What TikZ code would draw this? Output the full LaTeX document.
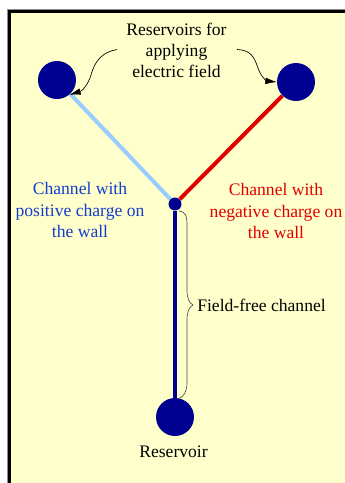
\documentclass[tikz,border=0pt]{standalone}
\usepackage{fontspec}
\setmainfont{Liberation Serif}
\usetikzlibrary{arrows.meta,calc}
\definecolor{bgy}{RGB}{255,255,204}
\definecolor{navyb}{RGB}{0,0,145}
\definecolor{lblue}{RGB}{153,204,255}
\definecolor{chred}{RGB}{225,0,0}
\definecolor{txtblue}{RGB}{20,60,205}
\definecolor{txtred}{RGB}{225,0,0}
\tikzset{
 res/.style={circle,fill=navyb,inner sep=0pt,minimum size=28.5pt},
 junc/.style={circle,fill=navyb,inner sep=0pt,minimum size=9.75pt},
 lab/.style={align=center,font=\fontsize{13.2pt}{15.8pt}\selectfont,inner sep=0pt},
 chan/.style={line width=3pt},
 callout/.style={line width=0.5pt,-{Latex[length=8.5pt,width=5pt]}}
}
\begin{document}
\begin{tikzpicture}[x=0.75pt,y=-0.75pt]
\useasboundingbox (0,0) rectangle (345,483);
\fill[white] (0,0) rectangle (345,483);
\fill[bgy] (9,11) rectangle (345,483);
\draw[black!45,line width=0.75pt] (7.5,483) -- (7.5,9.5) -- (345,9.5);
\draw[black,line width=2.6pt] (9.7,483) -- (9.7,11.5) -- (345,11.5);
\node[res] (L) at (57,80) {};
\node[res] (R) at (296,82) {};
\node[junc] (J) at (175,204) {};
\node[res] (B) at (175,417) {};
\draw[chan,lblue] (L) -- (J);
\draw[chan,chred] (R) -- (J);
\draw[chan,navyb] (J) -- (B);
\node[lab] (T) at (176.5,50) {Reservoirs for\\applying\\electric field};
\node[lab,text=txtblue] (P) at (80,210) {Channel with\\positive charge on\\the wall};
\node[lab,text=txtred] (N) at (276,211) {Channel with\\negative charge on\\the wall};
\node[lab,anchor=west] (F) at (197,305) {Field-free channel};
\node[lab] (S) at (173.5,452) {Reservoir};
\coordinate (TL) at (117,49.5);
\coordinate (TR) at (237,49.5);
\draw[callout] (TL) .. controls (103,52) and (95,60) .. (91,75) .. controls (88,85) and (82,91) .. (L.-50);
\draw[callout] (TR) .. controls (250,50) and (254,56) .. (258,68) .. controls (261,77) and (267,81) .. (R.west);
\draw[line width=0.5pt,black!70] (179,211) .. controls (186,212) and (187,216) .. (187,226) -- (187,290) .. controls (187,298) and (189,303) .. (193,305) .. controls (189,307) and (187,312) .. (187,320) -- (187,382) .. controls (187,391) and (185,396) .. (178,399);
\end{tikzpicture}
\end{document}
